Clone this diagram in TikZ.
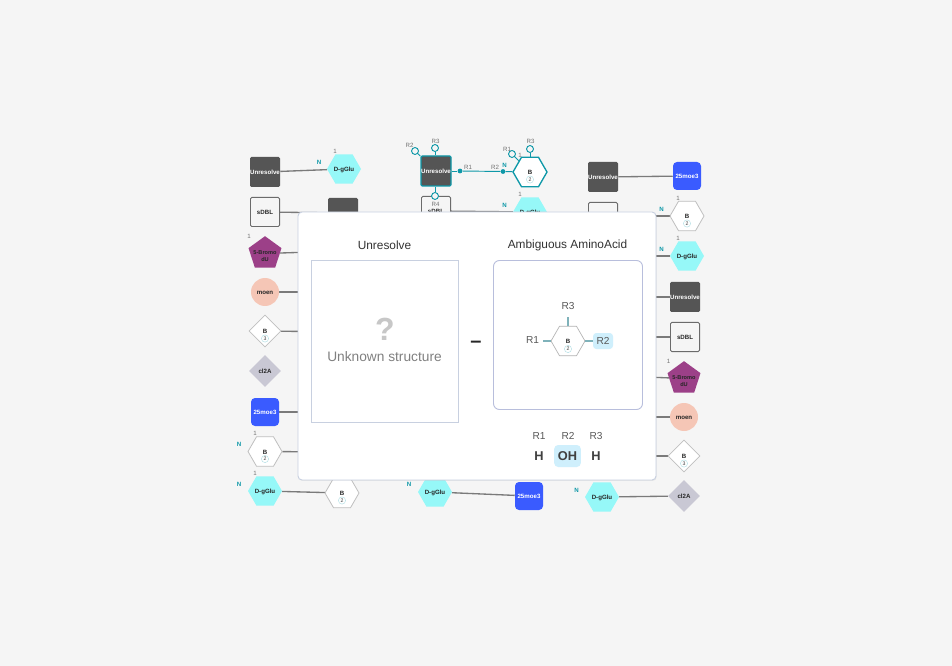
\documentclass[tikz,border=0pt]{standalone}
\usepackage{fontspec}
\setmainfont{Liberation Sans}
\usepackage{xcolor}
\usetikzlibrary{shapes.geometric,shadows,backgrounds}
\definecolor{pagebg}{HTML}{F5F5F5}
\definecolor{unkgray}{HTML}{555555}
\definecolor{glucyan}{HTML}{96F8F8}
\definecolor{moeblue}{HTML}{3A5BFF}
\definecolor{brompurple}{HTML}{9C4088}
\definecolor{moenpink}{HTML}{F5C6B6}
\definecolor{clgray}{HTML}{C9C8D4}
\definecolor{portteal}{HTML}{0E98A8}
\definecolor{stubteal}{HTML}{7FB2BA}
\definecolor{panelline}{HTML}{C8D0E0}
\definecolor{ambline}{HTML}{B8BEDC}
\definecolor{cntline}{HTML}{B5E0E6}
\definecolor{hilite}{HTML}{CFEFFC}
\newcommand{\lbl}[1]{\makebox[0pt]{\raisebox{-2.1pt}[0pt][0pt]{#1}}}
\tikzset{
  res/.style={inner sep=0pt,font=\fontsize{4.6}{5.4}\selectfont\bfseries,text=black!85},
  hexbase/.style={res,regular polygon,regular polygon sides=6,minimum size=25.5pt},
  hexd/.style={hexbase,fill=glucyan},
  hexw/.style={hexbase,fill=white,draw=black!25,line width=0.6pt},
  hext/.style={hexbase,fill=white,draw=portteal,line width=1pt},
  hexm/.style={hexbase,fill=white,draw=black!30,line width=0.5pt},
  unk/.style={res,rectangle,rounded corners=1pt,minimum size=22.5pt,fill=unkgray,text=white},
  unksel/.style={unk,draw=portteal,line width=0.9pt},
  sdbl/.style={res,rectangle,rounded corners=1pt,minimum size=21.8pt,fill=pagebg,draw=black!58,line width=0.7pt},
  moebox/.style={res,rectangle,rounded corners=3pt,minimum size=21pt,fill=moeblue,text=white},
  pent/.style={res,regular polygon,regular polygon sides=5,minimum size=26pt,fill=brompurple},
  moen/.style={res,circle,minimum size=21pt,fill=moenpink},
  dmdw/.style={res,diamond,minimum width=24pt,minimum height=24pt,fill=white,draw=black!25,line width=0.5pt},
  dmdc/.style={res,diamond,minimum width=24pt,minimum height=24pt,fill=clgray},
  lnk/.style={draw=black!52,line width=1pt},
  port/.style={draw=portteal,line width=0.7pt},
  opn/.style={circle,inner sep=0pt,minimum size=5.2pt,fill=pagebg,draw=portteal,line width=0.7pt},
  shut/.style={circle,inner sep=0pt,minimum size=3.6pt,fill=portteal},
  tinyr/.style={inner sep=0pt,font=\fontsize{4.6}{5}\selectfont,text=black!55},
  tinyn/.style={inner sep=0pt,font=\fontsize{4.6}{5}\selectfont\bfseries,text=portteal},
  cnt/.style={circle,inner sep=0pt,minimum size=5.4pt,fill=white,draw=cntline,line width=0.35pt,
    font=\fontsize{3.9}{4}\selectfont,text=black!75},
  midr/.style={inner sep=0pt,font=\fontsize{7.6}{9}\selectfont,text=black!65},
  bigv/.style={inner sep=0pt,font=\fontsize{9.6}{11}\selectfont\bfseries,text=black!75},
  title/.style={inner sep=0pt,font=\fontsize{8.9}{11}\selectfont,text=black!80},
}
\begin{document}
\begin{tikzpicture}[x=0.75pt,y=-0.75pt]
  \useasboundingbox (0,0) rectangle (952,666);
  \begin{scope}[on background layer]
    \fill[pagebg] (0,0) rectangle (952,666);
  \end{scope}

  % residues
  \foreach \nm/\sty/\px/\py/\txt in {
    unka/unk/265/172/Unresolve, sdbla/sdbl/265/212/sDBL, moena/moen/265/292/moen, cla/dmdc/265/371/cl2A,
    moea/moebox/265/412/25moe3, glua/hexd/265/491/D-gGlu, glub/hexd/344/169/D-gGlu, unkb/unk/343/213/{},
    unkmain/unksel/436/171/Unresolve, sdblb/sdbl/436/211/sDBL, gluc/hexd/530/212/D-gGlu,
    gluf/hexd/435/492/D-gGlu, moeb/moebox/529/496/25moe3,
    glug/hexd/602/497/D-gGlu, unkc/unk/603/177/Unresolve, moec/moebox/687/176/25moe3, sdblc/sdbl/603/217/{},
    glud/hexd/687/256/D-gGlu, unkd/unk/685/297/Unresolve, sdbld/sdbl/685/337/sDBL, moenb/moen/684/417/moen,
    clb/dmdc/684/496/cl2A} {
    \node[\sty] (\nm) at (\px,\py) {\lbl{\txt}};
  }
  \node[pent] (broma) at (265,253.5) {};
  \node[res,font=\fontsize{4.2}{5.2}\selectfont\bfseries,align=center] (bromat) at (265,256.5) {5-Bromo\\dU};
  \node[pent] (bromb) at (684,378.5) {};
  \node[res,font=\fontsize{4.2}{5.2}\selectfont\bfseries,align=center] (brombt) at (684,381.5) {5-Bromo\\dU};

  % base residues with a count
  \foreach \nm/\sty/\px/\py/\ct in {
    bta/dmdw/265/331/3, bhb/hexw/265/451.5/2, bhc/hexw/342/493/2, bhm/hext/530/172/2,
    bhd/hexw/687/216/2, btb/dmdw/684/456/3} {
    \node[\sty] (\nm) at (\px,\py) {\lbl{B}};
    \node[cnt] (\nm c) at (\px,\py+7.5) {\ct};
  }

  % hidden ends of the links
  \foreach \nm/\px/\py in {ha/344/251, hb/344/292, hc/344/332, hd/344/412, he/344/452,
    hf/620/216, hg/620/256, hh/620/297, hi/620/337, hj/620/376, hk/620/417, hl/620/456} {
    \coordinate (\nm) at (\px,\py);
  }

  % ports of the selected residues
  \node[opn] (pa) at (415,151) {};
  \node[opn] (pb) at (435,148) {};
  \node[opn] (pc) at (435,196) {};
  \node[shut] (pd) at (460,171) {};
  \node[shut] (pe) at (503,171.5) {};
  \node[opn] (pf) at (512,154) {};
  \node[opn] (pg) at (530,149) {};

  % links
  \begin{scope}[on background layer]
    \foreach \a/\b in {unka/glub, sdbla/unkb, sdblb/gluc, glua/bhc, gluf/moeb, glug/clb, unkc/moec,
      broma/ha, moena/hb, bta/hc, moea/hd, bhb/he, bhd/hf, glud/hg, unkd/hh, sdbld/hi, bromb/hj, moenb/hk, btb/hl} {
      \draw[lnk] (\a) -- (\b);
    }
    \draw[port] (pa) -- (unkmain);
    \draw[port] (pb) -- (unkmain.north -| pb);
    \draw[port] (pc) -- (unkmain.south -| pc);
    \draw[port] (unkmain) -- (pd);
    \draw[port] (pd) -- (pe);
    \draw[port] (pe) -- (bhm);
    \draw[port] (pf) -- (bhm);
    \draw[port] (pg) -- (bhm);
  \end{scope}

  % small labels
  \foreach \nm/\px/\py/\txt in {
    ra/409.5/145/R2, rb/435.5/141/R3, rc/435.5/204/R4, rd/468/167/R1, re/495/167/R2, rf/507/149/R1, rg/530.5/141/R3,
    oa/335/151/1, ob/249/236/1, oc/255/433/1, od/255/473/1, oe/520/155/1, of/520/194/1, og/678/198/1, oh/678/238/1, oi/668.5/361/1} {
    \node[tinyr] (\nm) at (\px,\py) {\txt};
  }
  \foreach \nm/\px/\py in {
    na/319/162, nb/239/444, nc/239/484, nd/504.5/165, ne/504.5/205, nf/409/484, ng/576.5/490, nh/661.5/209, ni/661.5/249} {
    \node[tinyn] (\nm) at (\px,\py) {N};
  }

  % panel
  \draw[panelline,fill=white,rounded corners=3pt,line width=0.7pt,
    drop shadow={opacity=0.12,shadow xshift=0.5pt,shadow yshift=-0.7pt}] (298,212) rectangle (656,480);
  \node[title] (unktitle) at (384.5,245) {Unresolve};
  \node[title] (ambtitle) at (567.5,245) {Ambiguous AminoAcid};
  \draw[panelline,line width=0.7pt] (311,260.5) rectangle (458.5,422.5);
  \draw[ambline,rounded corners=4.5pt,line width=0.7pt] (493.5,260.5) rectangle (642.5,409.5);
  \node[inner sep=0pt,font=\fontsize{24}{28}\selectfont\bfseries,text=black!22] (qmark) at (385,329) {?};
  \node[inner sep=0pt,font=\fontsize{10.3}{13}\selectfont,text=black!50] (unktext) at (384.5,357) {Unknown structure};
  \node[inner sep=0pt,font=\fontsize{15}{17}\selectfont\bfseries,text=black!85] (minus) at (476,344.5) {–};

  % sample residue
  \node[hexm] (samp) at (568,341) {\lbl{B}};
  \node[cnt] (sampc) at (568,349) {2};
  \node[midr] (sr3) at (568,306) {R3};
  \node[midr] (sr1) at (532.5,340.5) {R1};
  \node[midr,fill=hilite,rounded corners=2.5pt,minimum width=15pt,minimum height=12pt] (sr2) at (603,341) {R2};
  \coordinate (st3) at (568,317.5);
  \coordinate (st1) at (543,341);
  \draw[stubteal,line width=1pt] (st3) -- (samp.north);
  \draw[stubteal,line width=1pt] (st1) -- (samp.west);
  \draw[stubteal,line width=1pt] (samp.east) -- (sr2.west);

  % values
  \node[midr] (tr1) at (539,436) {R1};
  \node[midr] (tr2) at (568,436) {R2};
  \node[midr] (tr3) at (596,436) {R3};
  \node[bigv] (vr1) at (539,456) {H};
  \node[bigv,fill=hilite,rounded corners=3pt,minimum width=20pt,minimum height=16.5pt] (vr2) at (567.5,456) {OH};
  \node[bigv] (vr3) at (596,456) {H};
\end{tikzpicture}
\end{document}
